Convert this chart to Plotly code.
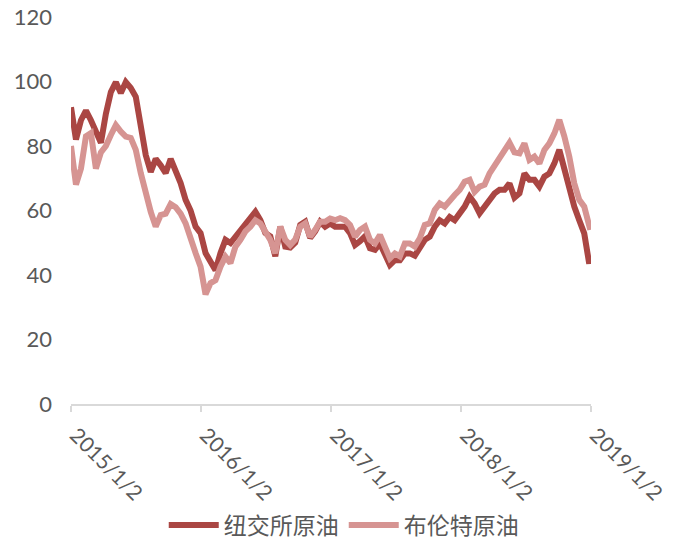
import pandas as pd
import plotly.graph_objects as go

# biweekly sample dates (2015-01-02 .. 2018-12-28) plus last trading day
dates = list(pd.date_range("2015-01-02", periods=105, freq="14D").strftime("%Y-%m-%d")) + ["2018-12-31"]

nymex = [92, 82, 88, 91, 88, 84, 81, 90, 96.7, 99.8,
         96.4, 99.8, 98, 95.3, 85.6, 77.2, 72, 76, 74, 71.6,
         76, 72.6, 68.5, 63.3, 60, 55, 53, 46.8, 43.7, 41.5,
         46.8, 50.9, 49.9, 51.9, 54, 56.3, 58, 59.6, 57, 53,
         52, 45.8, 55, 48.8, 48.5, 50, 55.5, 56.5, 51.5, 53.5,
         56.5, 55, 56, 55, 55, 55, 53, 49.3, 50.5, 52,
         48.3, 47.8, 49.8, 46.2, 43.1, 44.6, 44.6, 46.7, 46.7, 46,
         48.3, 50.9, 51.9, 55, 57, 56, 58, 57, 59.1, 61.2,
         64.3, 62.2, 59.1, 61.2, 63.8, 65.3, 66.4, 66.4, 68.4, 64,
         65.3, 71.5, 69.5, 69.5, 67.4, 70.5, 71.5, 74.6, 78.8, 72.6,
         67.4, 61.2, 57, 52.9, 43.5, 46]

brent = [80, 68, 73, 83, 84, 73, 78, 80, 83.4, 86.5,
         84.5, 82.9, 82.5, 78.8, 71.6, 64.8, 59.6, 55, 58.6, 59,
         62, 61, 59, 56, 51, 46.8, 42.6, 34, 37.5, 38.4,
         42.6, 45.7, 43.7, 48.8, 50.9, 53.5, 55, 57, 56, 53,
         50.9, 46.8, 55, 50.9, 49.3, 51, 55, 56, 51.9, 54,
         56.5, 56.5, 57.5, 57, 57.6, 57, 55.5, 51.9, 54, 55,
         50.9, 49.8, 52.4, 48.8, 45.2, 46.7, 45.8, 49.8, 49.8, 48.8,
         51.4, 55.5, 56, 60.2, 62.2, 61.2, 62.7, 64.8, 66.4, 68.9,
         69.5, 65.8, 67.4, 68, 71.5, 74.1, 76.7, 79.3, 81, 78,
         77.7, 80.8, 75.7, 76.7, 74.6, 78.8, 80.8, 83.9, 88.1, 83,
         76.7, 68.4, 63.3, 61.2, 54, 54]

series_names = ["纽交所原油", "布伦特原油"]
tick_dates = ["2015-01-02", "2016-01-02", "2017-01-02", "2018-01-02", "2019-01-02"]
tick_text = ["2015/1/2", "2016/1/2", "2017/1/2", "2018/1/2", "2019/1/2"]
y_ticks = [0, 20, 40, 60, 80, 100, 120]

DARK = "#AA4643"
LIGHT = "#D69492"
GREY = "#595959"

fig = go.Figure()
fig.add_trace(go.Scatter(x=dates, y=nymex, mode="lines", name=series_names[0],
                         line=dict(color=DARK, width=6)))
fig.add_trace(go.Scatter(x=dates, y=brent, mode="lines", name=series_names[1],
                         line=dict(color=LIGHT, width=6)))

fig.update_layout(
    width=674, height=544,
    margin=dict(l=71, r=83, t=17, b=140),
    paper_bgcolor="white", plot_bgcolor="white",
    font=dict(family="Lato, 'Noto Sans CJK SC', sans-serif", color=GREY, size=21),
    showlegend=True,
    legend=dict(orientation="h", xref="container", x=0.51, xanchor="center",
                yref="container", y=0.035, yanchor="middle",
                font=dict(family="'Noto Sans CJK SC', sans-serif", size=23, color=GREY),
                itemwidth=50, tracegroupgap=0, bgcolor="rgba(0,0,0,0)"),
    xaxis=dict(type="date", range=["2015-01-02", "2019-01-02"], automargin=False,
               tickvals=tick_dates, ticktext=tick_text, tickangle=45,
               showgrid=False, zeroline=False,
               showline=True, linecolor="#D9D9D9", linewidth=1.5,
               ticks="outside", tickcolor="#D9D9D9", ticklen=6, tickwidth=1.5,
               tickfont=dict(size=21, color=GREY), ticklabelstandoff=3,
               ticklabelshift=5, ticklabeloverflow="allow"),
    yaxis=dict(range=[0, 120], tickvals=y_ticks, showgrid=False, zeroline=False,
               automargin=False,
               showline=False, ticks="", tickfont=dict(size=22, color=GREY),
               ticklabelstandoff=18),
)

fig.write_html("out.html")
